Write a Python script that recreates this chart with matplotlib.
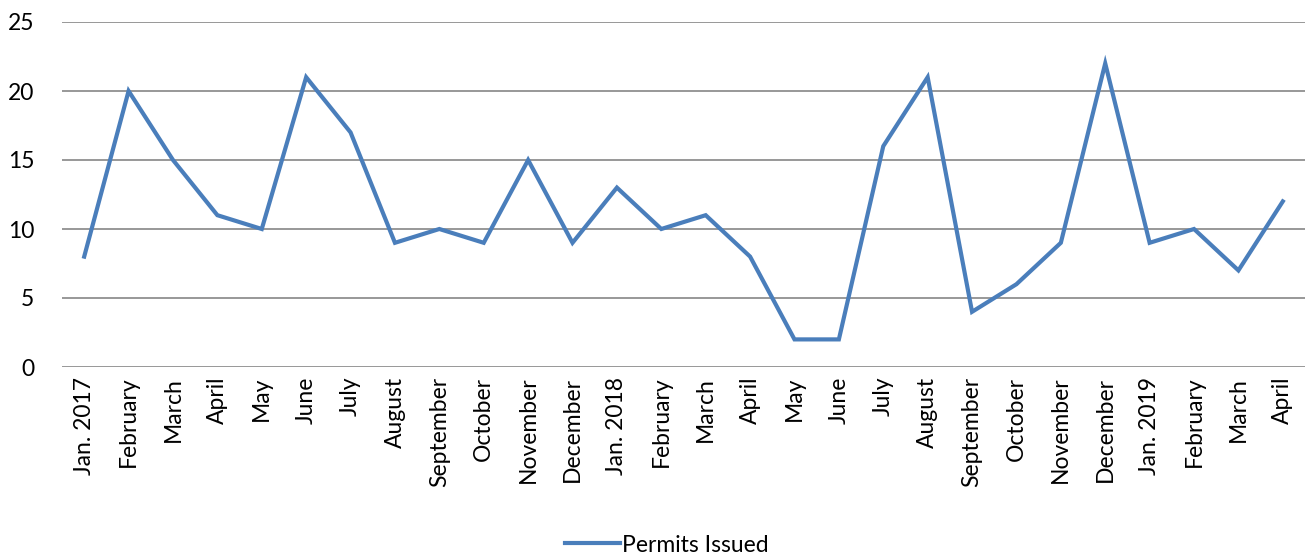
import matplotlib
matplotlib.use("Agg")
import matplotlib.pyplot as plt

plt.rcParams['font.family'] = ['Lato', 'DejaVu Sans']

months = ["Jan. 2017", "February", "March", "April", "May", "June", "July", "August",
          "September", "October", "November", "December", "Jan. 2018", "February", "March",
          "April", "May", "June", "July", "August", "September", "October", "November",
          "December", "Jan. 2019", "February", "March", "April"]
permits = [8, 20, 15, 11, 10, 21, 17, 9, 10, 9, 15, 9, 13, 10, 11, 8, 2, 2, 16, 21, 4, 6, 9, 22, 9, 10, 7, 12]
yticks = [0, 5, 10, 15, 20, 25]

W, H = 1312, 559
fig = plt.figure(figsize=(W / 100, H / 100), dpi=100)
ax = fig.add_axes([62 / W, 1 - 367 / H, (1305 - 62) / W, (367 - 22) / H])

x = list(range(len(months)))
line, = ax.plot(x, permits, color="#4a7ebb", lw=3.0, solid_joinstyle="miter", label="Permits Issued")

ax.set_xlim(-0.5, len(months) - 0.5)
ax.set_ylim(0, 25)
ax.set_yticks(yticks)
ax.set_xticks(x)
ax.set_xticklabels(months, rotation=90, fontsize=16.5)
ax.tick_params(axis="y", labelsize=16.5, length=0, pad=20)
ax.tick_params(axis="x", length=0, pad=7)
ax.grid(axis="y", color="#868686", lw=1.2)
ax.set_axisbelow(True)
for s in ax.spines.values():
    s.set_visible(False)

fig.legend(handles=[line], loc="center", bbox_to_anchor=(667 / W, 1 - 545 / H),
           frameon=False, fontsize=16.5, handlelength=2.4, handletextpad=0.1)

fig.savefig("out.png", dpi=100)
